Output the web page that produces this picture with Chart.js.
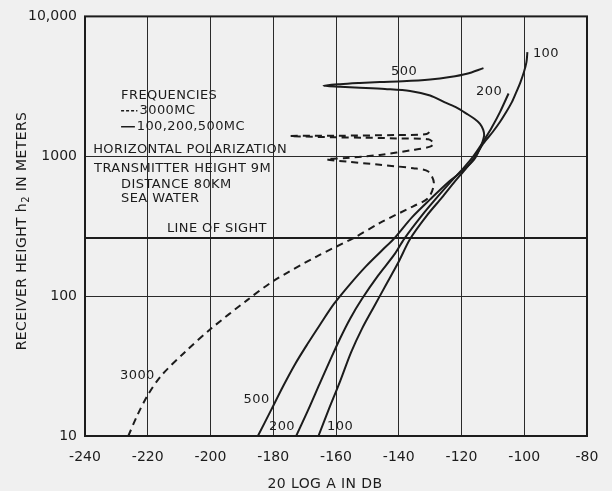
<!DOCTYPE html>
<html>
<head>
<meta charset="utf-8">
<script src="https://cdn.jsdelivr.net/npm/chart.js@4.4.1/dist/chart.umd.min.js"></script>
<style>
  html, body { margin: 0; padding: 0; background: #f0f0f0; }
  canvas { display: block; }
</style>
</head>
<body>
<canvas id="chart" width="612" height="491"></canvas>
<script>
/* ── Axis ticks ─────────────────────────────────────────────────────────── */
const xTicks = [-240, -220, -200, -180, -160, -140, -120, -100, -80];
const yTicks = [10, 100, 1000, 10000];

/* ── Curves: 20 log A (dB) vs receiver height (m) ───────────────────────── */
const db3000 = [-226.2, -223.3, -220.0, -215.7, -208.1, -199.8, -188.3, -179.9, -166.2, -154.3, -146.0,
                -135.4, -130.6, -128.8, -130.6, -135.4, -146.0, -156.6, -163.0, -156.6, -146.0, -135.4,
                -130.0, -128.8, -130.6, -140.7, -151.3, -159.3, -174.7, -159.3, -140.7, -131.1, -129.5];
const h3000  = [10, 14.1, 19.6, 27, 39.9, 58.6, 93.7, 128.5, 192, 261, 334,
                439, 503, 643, 778, 821, 869, 916, 951, 973, 1023, 1110,
                1172, 1236, 1321, 1342, 1358, 1365, 1396, 1403, 1419, 1442, 1556];

const db500 = [-184.9, -180.7, -176.9, -173.1, -169.2, -165.1, -160.6, -155.5, -150.4, -145.3, -141.5, -135.8, -130.0,
               -124.3, -119.2, -116.0, -114.6, -113.5, -112.8, -113.1, -114.1, -115.9, -118.3, -121.4, -125.3, -130.0,
               -136.4, -144.4, -152.4, -158.7, -164.0, -158.7, -152.4, -146.0, -138.7, -130.0, -123.7, -118.3, -113.0];
const h500  = [10, 15.3, 22.6, 32.5, 45.1, 62.5, 88.3, 122, 164, 213, 258, 366, 492,
               650, 804, 947, 1079, 1230, 1403, 1549, 1707, 1853, 2011, 2218, 2427, 2722,
               2931, 3027, 3092, 3139, 3190, 3275, 3340, 3394, 3436, 3537, 3683, 3890, 4270];

const db200 = [-172.7, -168.9, -165.3, -161.9, -158.7, -155.5, -151.7, -146.6, -141.5, -138.2, -132.6,
               -127.8, -123.3, -119.5, -116.3, -114.1, -112.5, -110.4, -107.7, -105.0];
const h200  = [10, 15.3, 23.4, 34.7, 49.8, 69, 95.7, 140, 197, 258, 378,
               508, 661, 817, 995, 1172, 1336, 1600, 2078, 2812];

const db100 = [-165.6, -162.4, -158.7, -155.2, -151.7, -147.9, -144.1, -140.2, -136.3, -131.0, -126.2, -122.1,
               -118.6, -115.4, -113.1, -110.0, -107.7, -105.7, -103.9, -102.5, -101.2, -100.1, -99.3, -99.0];
const h100  = [10, 15.3, 24.6, 39.6, 58.6, 84, 120, 173, 258, 378, 508, 661,
               817, 1011, 1230, 1497, 1764, 2078, 2447, 2884, 3394, 4000, 4710, 5550];

const losDb = [-240, -80];
const losH  = [260, 260];

/* ── Text notes placed in data units ────────────────────────────────────── */
const notes = [
  { text: 'FREQUENCIES',             x: -228.5, y: 2700, align: 'left' },
  { text: '3000MC',                  x: -222.6, y: 2113, align: 'left' },
  { text: '100,200,500MC',           x: -223.5, y: 1626, align: 'left' },
  { text: 'HORIZONTAL POLARIZATION', x: -237.4, y: 1115, align: 'left' },
  { text: 'TRANSMITTER HEIGHT 9M',   x: -237.1, y: 816,  align: 'left' },
  { text: 'DISTANCE 80KM',           x: -228.5, y: 629,  align: 'left' },
  { text: 'SEA WATER',               x: -228.5, y: 500,  align: 'left' },
  { text: 'LINE OF SIGHT',           x: -213.9, y: 305,  align: 'left' },
  { text: '500',  x: -138.3, y: 4000, align: 'center' },
  { text: '200',  x: -111.2, y: 2885, align: 'center' },
  { text: '100',  x: -93.1,  y: 5460, align: 'center' },
  { text: '3000', x: -223.3, y: 27.2, align: 'center' },
  { text: '500',  x: -185.3, y: 18.3, align: 'center' },
  { text: '200',  x: -177.2, y: 11.6, align: 'center' },
  { text: '100',  x: -158.7, y: 11.6, align: 'center' },
];

const INK = '#1c1c1c';
const FONT = 'DejaVu Sans';

function pts(xs, ys) {
  return xs.map((x, i) => ({ x, y: ys[i] }));
}

function curve(xs, ys, dash) {
  return {
    data: pts(xs, ys),
    showLine: true,
    borderColor: INK,
    borderWidth: 2,
    borderDash: dash || [],
    pointRadius: 0,
    tension: 0.3,
    fill: false,
  };
}

/* ── Frame, legend keys and text ────────────────────────────────────────── */
const decorPlugin = {
  id: 'decor',
  afterDraw(chart) {
    const { ctx, chartArea: a, scales: { x, y } } = chart;
    ctx.save();

    ctx.strokeStyle = INK;
    ctx.lineWidth = 2;
    ctx.strokeRect(a.left, a.top, a.right - a.left, a.bottom - a.top);

    // legend keys
    ctx.lineWidth = 1.5;
    ctx.setLineDash([3, 2]);
    ctx.beginPath();
    ctx.moveTo(x.getPixelForValue(-228.5), y.getPixelForValue(2113));
    ctx.lineTo(x.getPixelForValue(-223.3), y.getPixelForValue(2113));
    ctx.stroke();
    ctx.setLineDash([]);
    ctx.beginPath();
    ctx.moveTo(x.getPixelForValue(-228.5), y.getPixelForValue(1626));
    ctx.lineTo(x.getPixelForValue(-224.1), y.getPixelForValue(1626));
    ctx.stroke();

    ctx.fillStyle = INK;
    ctx.textBaseline = 'middle';
    ctx.font = `13px "${FONT}"`;
    if ('letterSpacing' in ctx) ctx.letterSpacing = '0.4px';
    notes.forEach(n => {
      ctx.textAlign = n.align;
      ctx.fillText(n.text, x.getPixelForValue(n.x), y.getPixelForValue(n.y));
    });

    // x title
    ctx.font = `14px "${FONT}"`;
    ctx.textAlign = 'center';
    ctx.fillText('20 LOG A IN DB', 325, 484);

    // y title with subscript
    ctx.translate(22, 231);
    ctx.rotate(-Math.PI / 2);
    const p1 = 'RECEIVER HEIGHT h', p3 = ' IN METERS';
    ctx.font = `14px "${FONT}"`;
    const w1 = ctx.measureText(p1).width, w3 = ctx.measureText(p3).width;
    ctx.font = `10px "${FONT}"`;
    const w2 = ctx.measureText('2').width;
    const sx = -(w1 + w2 + w3) / 2;
    ctx.textAlign = 'left';
    ctx.font = `14px "${FONT}"`;
    ctx.fillText(p1, sx, 0);
    ctx.font = `10px "${FONT}"`;
    ctx.fillText('2', sx + w1, 4);
    ctx.font = `14px "${FONT}"`;
    ctx.fillText(p3, sx + w1 + w2, 0);

    ctx.restore();
  },
};

new Chart(document.getElementById('chart'), {
  type: 'scatter',
  data: {
    datasets: [
      curve(losDb, losH),
      curve(db3000, h3000, [7, 5]),
      curve(db500, h500),
      curve(db200, h200),
      curve(db100, h100),
    ],
  },
  options: {
    responsive: false,
    animation: false,
    layout: { padding: { top: 14, right: 25, left: 0, bottom: 0 } },
    plugins: { legend: { display: false }, tooltip: { enabled: false } },
    scales: {
      x: {
        type: 'linear',
        min: -240,
        max: -80,
        afterBuildTicks: s => { s.ticks = xTicks.map(v => ({ value: v })); },
        afterFit: s => { s.height = 55; },
        grid: { color: '#2a2a2a', lineWidth: 1, drawTicks: false },
        border: { display: false },
        ticks: { color: INK, padding: 13, maxRotation: 0, font: { family: FONT, size: 14 }, callback: v => String(v) },
      },
      y: {
        type: 'logarithmic',
        min: 10,
        max: 10000,
        afterBuildTicks: s => { s.ticks = yTicks.map(v => ({ value: v })); },
        afterFit: s => { s.width = 85; },
        grid: { color: '#2a2a2a', lineWidth: 1, drawTicks: false },
        border: { display: false },
        ticks: { color: INK, padding: 8, font: { family: FONT, size: 14 },
                 callback: v => (v === 10000 ? '10,000' : String(v)) },
      },
    },
  },
  plugins: [decorPlugin],
});
</script>
</body>
</html>
